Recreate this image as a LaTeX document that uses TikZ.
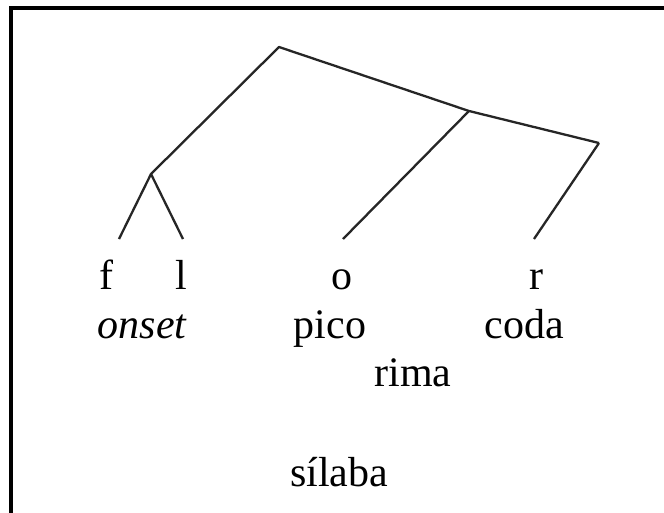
\documentclass[tikz,border=0pt]{standalone}
\usepackage{fontspec}
\setmainfont{Liberation Serif}
\begin{document}
\begin{tikzpicture}[x=1pt,y=-1pt,
  branch/.style={line width=2.3pt, draw=black!85, line join=round},
  lbl/.style={anchor=base, inner sep=0pt, font=\fontsize{42}{50}\selectfont}]
\useasboundingbox (0,0) rectangle (664,512);
\clip (0,0) rectangle (664,512);
\fill[white] (0,0) rectangle (664,512);
\draw[line width=3.5pt] (11,8) rectangle (700,560);
% tree vertices
\coordinate (top) at (279,47);
\coordinate (ons) at (151,174);
\coordinate (rim) at (469,111);
\coordinate (cod) at (599,143);
\coordinate (fe) at (119,239);
\coordinate (le) at (183,239);
\coordinate (oe) at (343,239);
\coordinate (re) at (534,239);
% labels
\node[lbl] (f) at (106,289) {f};
\node[lbl] (l) at (181,289) {l};
\node[lbl] (o) at (342,289) {o};
\node[lbl] (r) at (536,289) {r};
\node[lbl] (onset) at (142,338) {\itshape onset};
\node[lbl] (pico) at (330,338) {pico};
\node[lbl] (coda) at (524,338) {coda};
\node[lbl] (rima) at (413,386) {rima};
\node[lbl] (silaba) at (339,486) {sílaba};
% branches
\draw[branch] (ons) -- (top) -- (rim) -- (cod);
\draw[branch] (fe) -- (ons) -- (le);
\draw[branch] (oe) -- (rim);
\draw[branch] (re) -- (cod);
\end{tikzpicture}
\end{document}
